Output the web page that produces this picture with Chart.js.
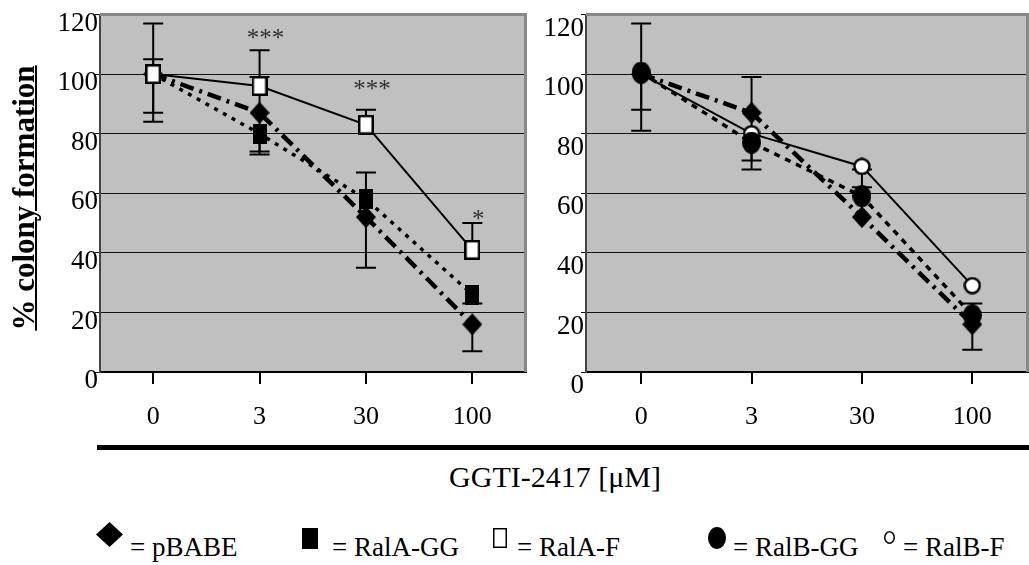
<!DOCTYPE html>
<html><head><meta charset="utf-8">
<script src="https://cdn.jsdelivr.net/npm/chart.js@4.4.1/dist/chart.umd.min.js"></script>
<style>
html,body{margin:0;padding:0;background:#fff;width:1029px;height:565px;overflow:hidden;position:relative;font-family:'Liberation Serif','Times New Roman',Times,'DejaVu Serif',serif;color:#000}
.abs{position:absolute}
#leftWrap{left:0;top:0;width:540px;height:440px}
#rightWrap{left:530px;top:0;width:512px;height:440px}
#ytitle{left:-126px;top:180px;width:300px;height:36px;line-height:36px;text-align:center;font-weight:bold;font-size:31px;transform:rotate(-90deg);text-decoration:underline;text-decoration-thickness:2px;white-space:nowrap}
#rule{left:97px;top:445px;width:932px;height:5px;background:#000}
#xtitle{left:355px;top:462px;width:400px;text-align:center;font-size:30px;line-height:30px;white-space:nowrap}
.lg{font-size:27px;line-height:27px;top:534px;white-space:nowrap}
svg.abs{overflow:visible}
</style></head>
<body>
<div id="leftWrap" class="abs"><canvas id="cLeft"></canvas></div>
<div id="rightWrap" class="abs"><canvas id="cRight"></canvas></div>
<div id="ytitle" class="abs">% colony formation</div>
<div id="rule" class="abs"></div>
<div id="xtitle" class="abs">GGTI-2417 [μM]</div>

<svg class="abs" style="left:96px;top:522px" width="27" height="25"><polygon points="13.5,0 27,12.5 13.5,25 0,12.5" fill="#000"/></svg>
<div class="abs lg" style="left:130px">= pBABE</div>
<svg class="abs" style="left:302px;top:528px" width="16" height="21"><rect x="0" y="0" width="16" height="21" fill="#000"/></svg>
<div class="abs lg" style="left:332px">= RalA-GG</div>
<svg class="abs" style="left:493px;top:528px" width="14" height="20"><rect x="0.75" y="0.75" width="12.5" height="18.5" fill="#fff" stroke="#000" stroke-width="1.5"/></svg>
<div class="abs lg" style="left:517px">= RalA-F</div>
<svg class="abs" style="left:708px;top:527px" width="18" height="22"><ellipse cx="9" cy="11" rx="9" ry="11" fill="#000"/></svg>
<div class="abs lg" style="left:733px">= RalB-GG</div>
<svg class="abs" style="left:884px;top:531px" width="11" height="13"><ellipse cx="5.5" cy="6.5" rx="4.75" ry="5.75" fill="#fff" stroke="#000" stroke-width="1.5"/></svg>
<div class="abs lg" style="left:903px">= RalB-F</div>

<script>
// ---- data ----
const categories = ['0', '3', '30', '100'];
const yTickValues = [0, 20, 40, 60, 80, 100, 120];

// left panel (RalA)
const pbabeA      = [100, 87, 52, 16];
const pbabeAUp    = [17, 12, 0, 0];
const pbabeADown  = [16, 14, 17, 9];
const ralAGG      = [100, 80, 58, 26];
const ralAGGUp    = [5, 0, 9, 0];
const ralAGGDown  = [13, 6, 0, 3];
const ralAF       = [100, 96, 83, 41];
const ralAFUp     = [0, 12, 5, 9];
const ralAFDown   = [0, 0, 0, 0];
const starsA      = [{i: 1, v: 111, t: '***'}, {i: 2, v: 94, t: '***'}, {i: 3, v: 50.5, t: '*'}];

// right panel (RalB)
const pbabeB      = [100, 87, 52, 16];
const pbabeBUp    = [17, 12, 10, 0];
const pbabeBDown  = [19, 19, 0, 8.5];
const ralBGG      = [100.5, 77, 59, 19];
const ralBGGUp    = [0, 0, 9, 4];
const ralBGGDown  = [12.5, 6, 0, 0];
const ralBF       = [100, 80, 69, 29];
const ralBFUp     = [0, 0, 0, 0];
const ralBFDown   = [0, 0, 0, 0];

const FAMILY = "'Liberation Serif', 'Times New Roman', Times, 'DejaVu Serif', serif";

// ---- markers ----
function mk(w, h, draw) { const c = document.createElement('canvas'); c.width = w; c.height = h; draw(c.getContext('2d'), w, h); return c; }
const mDiamond = mk(20, 22, (g, w, h) => { g.fillStyle = '#000'; g.beginPath(); g.moveTo(w/2, 0); g.lineTo(w, h/2); g.lineTo(w/2, h); g.lineTo(0, h/2); g.closePath(); g.fill(); });
const mRect = mk(14, 20, (g, w, h) => { g.fillStyle = '#000'; g.fillRect(0, 0, w, h); });
const mOpenRect = mk(16, 20, (g, w, h) => { g.fillStyle = '#fff'; g.fillRect(0, 0, w, h); g.strokeStyle = '#000'; g.lineWidth = 2.5; g.strokeRect(1.25, 1.25, w-2.5, h-2.5); });
const mEllipse = mk(19, 22, (g, w, h) => { g.fillStyle = '#000'; g.beginPath(); g.ellipse(w/2, h/2, w/2, h/2, 0, 0, Math.PI*2); g.fill(); });
const mOpenCircle = mk(18, 18, (g, w, h) => { g.fillStyle = '#fff'; g.strokeStyle = '#000'; g.lineWidth = 2.5; g.beginPath(); g.arc(w/2, h/2, w/2-1.5, 0, Math.PI*2); g.fill(); g.stroke(); });

Chart.defaults.font.family = FAMILY;
Chart.defaults.color = '#000';

const decor = {
  id: 'decor',
  beforeDraw(chart) {
    const a = chart.chartArea, g = chart.ctx;
    g.save(); g.fillStyle = '#c0c0c0'; g.fillRect(a.left, a.top, a.right - a.left, a.bottom - a.top); g.restore();
  },
  beforeDatasetsDraw(chart) {
    const a = chart.chartArea, g = chart.ctx;
    g.save();
    g.strokeStyle = '#888'; g.lineWidth = 3;
    g.beginPath(); g.moveTo(a.left, a.top); g.lineTo(a.right, a.top); g.lineTo(a.right, a.bottom); g.stroke();
    const xs = chart.scales.x, ys = chart.scales.y;
    g.strokeStyle = '#000'; g.lineWidth = 2;
    chart.data.datasets.forEach(ds => {
      ds.data.forEach((v, i) => {
        const x = xs.getPixelForValue(i), y0 = ys.getPixelForValue(v);
        [[ds.errUp[i], 1], [ds.errDown[i], -1]].forEach(([e, s]) => {
          if (!e) return;
          const y1 = ys.getPixelForValue(v + s * e);
          g.beginPath(); g.moveTo(x, y0); g.lineTo(x, y1);
          g.moveTo(x - 10, y1); g.lineTo(x + 10, y1); g.stroke();
        });
      });
    });
    g.restore();
  },
  afterDatasetsDraw(chart, args, opts) {
    const g = chart.ctx, xs = chart.scales.x, ys = chart.scales.y;
    g.save();
    g.fillStyle = '#333'; g.font = '25px ' + FAMILY; g.textAlign = 'center'; g.textBaseline = 'alphabetic';
    (opts.stars || []).forEach(s => { g.fillText(s.t, xs.getPixelForValue(s.i) + 6, ys.getPixelForValue(s.v) + 5); });
    g.restore();
  }
};

function lineDs(label, data, up, down, style, kind) {
  const base = {label, data, errUp: up, errDown: down, pointStyle: style, pointRadius: 10, borderColor: '#000', backgroundColor: '#000', fill: false, tension: 0, borderCapStyle: 'butt'};
  if (kind === 'solid') Object.assign(base, {borderWidth: 2});
  if (kind === 'dashdot') Object.assign(base, {borderWidth: 4.5, borderDash: [14, 6, 3, 6]});
  if (kind === 'dotted') Object.assign(base, {borderWidth: 3.5, borderDash: [4, 6]});
  if (kind === 'dashed') Object.assign(base, {borderWidth: 3.5, borderDash: [6, 6]});
  return base;
}

function makeChart(id, datasets, yWidth, padRight, labelOffsetY, stars) {
  return new Chart(document.getElementById(id), {
    type: 'line',
    data: {labels: categories, datasets},
    options: {
      responsive: true, maintainAspectRatio: false, animation: false,
      layout: {padding: {top: 6, right: padRight, left: 0, bottom: 0}},
      plugins: {legend: {display: false}, tooltip: {enabled: false}, decor: {stars}},
      scales: {
        x: {
          type: 'category', offset: true,
          grid: {offset: false, drawOnChartArea: false, drawTicks: true, tickLength: 12, color: '#000', lineWidth: 2},
          border: {display: true, color: '#000', width: 2},
          ticks: {font: {size: 26}, color: '#000', padding: 18, maxRotation: 0, autoSkip: false},
          afterFit: s => { s.height = 68; s.paddingLeft = 0; s.paddingRight = 0; }
        },
        y: {
          min: 0, max: 120,
          afterBuildTicks: s => { s.ticks = yTickValues.map(v => ({value: v})); },
          grid: {color: '#111', lineWidth: 1, tickLength: 5, drawTicks: true},
          border: {display: true, color: '#444', width: 2},
          ticks: {font: {size: 27}, color: '#000', padding: -3, labelOffset: labelOffsetY},
          afterFit: s => { s.width = yWidth; s.paddingTop = 0; s.paddingBottom = 0; }
        }
      }
    },
    plugins: [decor]
  });
}

makeChart('cLeft', [
  lineDs('RalA-F', ralAF, ralAFUp, ralAFDown, mOpenRect, 'solid'),
  lineDs('pBABE', pbabeA, pbabeAUp, pbabeADown, mDiamond, 'dashdot'),
  lineDs('RalA-GG', ralAGG, ralAGGUp, ralAGGDown, mRect, 'dotted')
], 100, 14, 9, starsA);

makeChart('cRight', [
  lineDs('RalB-GG', ralBGG, ralBGGUp, ralBGGDown, mEllipse, 'dashed'),
  lineDs('RalB-F', ralBF, ralBFUp, ralBFDown, mOpenCircle, 'solid'),
  lineDs('pBABE', pbabeB, pbabeBUp, pbabeBDown, mDiamond, 'dashdot')
], 56, 3.5, 14, []);
</script>
</body></html>
